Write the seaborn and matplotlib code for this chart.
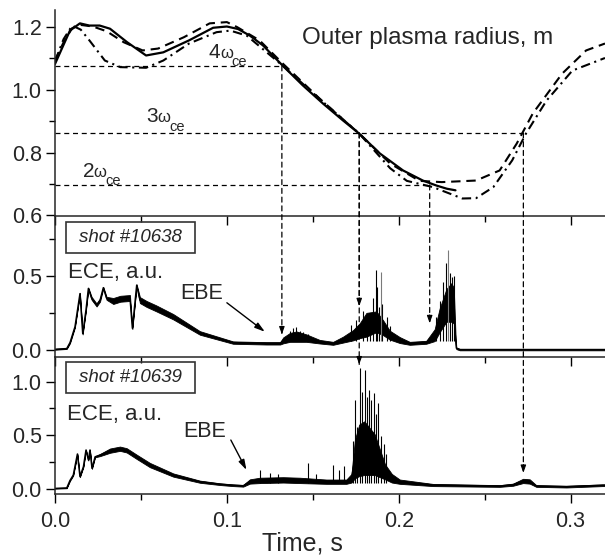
import numpy as np
import pandas as pd
import matplotlib
matplotlib.use("Agg")
import matplotlib.pyplot as plt
import seaborn as sns
from matplotlib.patches import ConnectionPatch, Rectangle
from matplotlib.ticker import MultipleLocator, FormatStrFormatter

# ---------------- data ----------------
# Outer plasma radius, m
solid_t = [0.000, 0.004, 0.0087, 0.0145, 0.020, 0.026, 0.032, 0.042, 0.053, 0.063, 0.078, 0.092,
           0.100, 0.1065, 0.1134, 0.121, 0.1326, 0.1442, 0.156, 0.1675, 0.177, 0.189, 0.2025,
           0.214, 0.222, 0.228, 0.233]
solid_r = [1.081, 1.13, 1.187, 1.21, 1.203, 1.203, 1.193, 1.150, 1.108, 1.118, 1.156, 1.196,
           1.200, 1.192, 1.171, 1.14, 1.075, 1.013, 0.955, 0.902, 0.860, 0.797, 0.743,
           0.711, 0.695, 0.685, 0.68]
dash_t = [0.000, 0.005, 0.010, 0.015, 0.022, 0.030, 0.040, 0.051, 0.060, 0.075, 0.090, 0.100,
          0.106, 0.119, 0.1326, 0.154, 0.177, 0.195, 0.212, 0.225, 0.245, 0.2587, 0.2686,
          0.278, 0.295, 0.309, 0.32]
dash_r = [1.092, 1.15, 1.195, 1.205, 1.20, 1.185, 1.15, 1.124, 1.13, 1.166, 1.21, 1.214,
          1.198, 1.156, 1.082, 0.971, 0.860, 0.765, 0.71, 0.706, 0.711, 0.743, 0.828,
          0.924, 1.05, 1.124, 1.146]
dd_t = [0.000, 0.005, 0.010, 0.015, 0.020, 0.029, 0.038, 0.053, 0.063, 0.078, 0.094, 0.102,
        0.1116, 0.1326, 0.155, 0.177, 0.195, 0.2047, 0.22, 0.237, 0.245, 0.255, 0.266,
        0.274, 0.286, 0.301, 0.319, 0.32]
dd_r = [1.09, 1.16, 1.203, 1.19, 1.156, 1.092, 1.071, 1.069, 1.092, 1.146, 1.182, 1.187,
        1.171, 1.075, 0.965, 0.860, 0.75, 0.71, 0.69, 0.654, 0.655, 0.69, 0.775,
        0.86, 0.965, 1.06, 1.098, 1.10]

# resonance levels (radius) and the times where they are crossed
res_labels = ["4", "3", "2"]
res_r = [1.075, 0.862, 0.697]
res_t_end = [0.132, 0.2725, 0.218]
res_label_t = [0.0895, 0.0533, 0.0161]
res_label_r = [1.1016, 0.896, 0.7217]

# arrows: time, top-panel radius, target panel, tip value
arrow_t = [0.132, 0.177, 0.177, 0.218, 0.2725]
arrow_r = [1.075, 0.862, 0.862, 0.697, 0.862]
arrow_panel = ["mid", "mid", "bot", "mid", "bot"]
arrow_tip = [0.105, 0.295, 1.16, 0.18, 0.15]

# ECE, shot #10638 : centre of trace and half-width of noise band
e1_t = [0.000, 0.0068, 0.0087, 0.0116, 0.0145, 0.0161, 0.018, 0.0194, 0.0213, 0.0242, 0.0262,
        0.0281, 0.030, 0.0339, 0.038, 0.0436, 0.045, 0.0475, 0.0494, 0.0533, 0.059, 0.0688,
        0.0843, 0.1036, 0.123, 0.131, 0.1328, 0.1367, 0.1405, 0.1463, 0.154, 0.1618, 0.1676,
        0.1735, 0.1773, 0.1812, 0.187, 0.1909, 0.1948, 0.2006, 0.2064, 0.216, 0.2209, 0.2238,
        0.2277, 0.2306, 0.232, 0.233, 0.2335, 0.2355, 0.26, 0.29, 0.32]
e1_v = [0.005, 0.010, 0.05, 0.157, 0.38, 0.11, 0.27, 0.415, 0.348, 0.303, 0.336,
        0.42, 0.348, 0.33, 0.345, 0.35, 0.146, 0.437, 0.336, 0.31, 0.28, 0.224,
        0.115, 0.05, 0.045, 0.045, 0.065, 0.085, 0.09, 0.08, 0.056, 0.045, 0.07,
        0.10, 0.13, 0.17, 0.19, 0.15, 0.10, 0.067, 0.045, 0.052, 0.10, 0.20,
        0.30, 0.32, 0.30, 0.08, 0.012, 0.003, 0.003, 0.003, 0.003]
e1_w = [0.003, 0.003, 0.005, 0.005, 0.005, 0.005, 0.005, 0.005, 0.01, 0.01, 0.01,
        0.005, 0.01, 0.02, 0.02, 0.02, 0.005, 0.005, 0.02, 0.02, 0.02, 0.018,
        0.012, 0.008, 0.008, 0.008, 0.02, 0.03, 0.035, 0.025, 0.012, 0.01, 0.02,
        0.035, 0.05, 0.08, 0.07, 0.05, 0.03, 0.02, 0.01, 0.01, 0.04, 0.08,
        0.11, 0.13, 0.12, 0.03, 0.006, 0.005, 0.005, 0.005, 0.005]
s1_t = [0.1365, 0.1385, 0.1405, 0.1415, 0.1425, 0.1445, 0.1470, 0.1720, 0.1750, 0.1790,
        0.1815, 0.1830, 0.1851, 0.1866, 0.1875, 0.1886, 0.1905, 0.1932, 0.1950,
        0.2215, 0.2240, 0.2258, 0.2273, 0.2296, 0.2312, 0.2320]
s1_v = [0.13, 0.15, 0.157, 0.12, 0.13, 0.12, 0.11, 0.17, 0.20, 0.26,
        0.236, 0.224, 0.348, 0.538, 0.426, 0.29, 0.31, 0.224, 0.16,
        0.22, 0.33, 0.46, 0.583, 0.515, 0.494, 0.50]
s1_grey_t = [0.1899, 0.2286]
s1_grey_v = [0.527, 0.673]

# ECE, shot #10639
e2_t = [0.000, 0.0068, 0.0087, 0.0106, 0.0130, 0.0145, 0.0165, 0.018, 0.0194, 0.0203, 0.0215,
        0.0233, 0.0262, 0.032, 0.0378, 0.0417, 0.0475, 0.0552, 0.0688, 0.0843, 0.0960,
        0.1036, 0.1095, 0.1134, 0.1192, 0.1328, 0.1424, 0.1579, 0.1695, 0.1725, 0.1745,
        0.177, 0.180, 0.183, 0.186, 0.189, 0.192, 0.196, 0.2006, 0.22, 0.2588, 0.2665,
        0.2723, 0.2762, 0.2800, 0.2975, 0.3186, 0.32]
e2_v = [0.006, 0.010, 0.08, 0.13, 0.326, 0.115, 0.208, 0.363, 0.27, 0.363, 0.192,
        0.30, 0.316, 0.357, 0.375, 0.36, 0.30, 0.223, 0.13, 0.068, 0.045,
        0.035, 0.03, 0.07, 0.08, 0.085, 0.08, 0.068, 0.068, 0.10, 0.28,
        0.36, 0.38, 0.35, 0.32, 0.24, 0.16, 0.10, 0.068, 0.037, 0.028, 0.04,
        0.075, 0.07, 0.028, 0.022, 0.035, 0.035]
e2_w = [0.003, 0.003, 0.005, 0.005, 0.005, 0.005, 0.005, 0.005, 0.005, 0.005, 0.005,
        0.005, 0.01, 0.02, 0.02, 0.02, 0.02, 0.02, 0.015, 0.01, 0.008,
        0.008, 0.008, 0.02, 0.025, 0.025, 0.025, 0.02, 0.02, 0.04, 0.18,
        0.24, 0.25, 0.22, 0.19, 0.13, 0.07, 0.04, 0.02, 0.01, 0.008, 0.01,
        0.02, 0.02, 0.008, 0.008, 0.008, 0.008]
s2_t = [0.1192, 0.125, 0.130, 0.1473, 0.152, 0.1619, 0.1653, 0.1682, 0.1735, 0.1744, 0.1758,
        0.1773, 0.1789, 0.1802, 0.1816, 0.1827, 0.1841, 0.1855, 0.1868, 0.188, 0.1899,
        0.1915, 0.1928]
s2_v = [0.177, 0.15, 0.14, 0.24, 0.14, 0.224, 0.177, 0.21, 0.45, 0.83, 0.58,
        1.124, 0.906, 1.108, 0.86, 0.92, 0.83, 0.89, 0.70, 0.80, 0.49,
        0.42, 0.33]

x_ticks = [0.0, 0.1, 0.2, 0.3]

# ---------------- style ----------------
sns.set_style("ticks")
plt.rcParams["font.family"] = ["Liberation Sans", "DejaVu Sans"]
plt.rcParams["axes.linewidth"] = 1.1

fig = plt.figure(figsize=(6.05, 5.59), dpi=100)
L, W = 55 / 605, 550 / 605
ax_top = fig.add_axes([L, 1 - 215.5 / 559, W, 205.5 / 559])
ax_mid = fig.add_axes([L, 1 - 357 / 559, W, 141 / 559])
ax_bot = fig.add_axes([L, 1 - 494 / 559, W, 137 / 559])
axes = {"mid": ax_mid, "bot": ax_bot}

for ax in (ax_top, ax_mid, ax_bot):
    ax.set_facecolor("none")
    ax.set_xlim(0, 0.32)
    ax.spines["top"].set_visible(False)
    ax.spines["right"].set_visible(False)
    ax.xaxis.set_major_locator(MultipleLocator(0.1))
    ax.xaxis.set_minor_locator(MultipleLocator(0.05))
    ax.tick_params(which="major", direction="out", length=6.5, width=1.0,
                   labelsize=15.5, pad=3, color="k")
    ax.tick_params(which="minor", direction="out", length=4, width=1.0, color="k")
    ax.yaxis.set_major_formatter(FormatStrFormatter("%.1f"))
    ax.set_xlabel("")
    ax.set_ylabel("")

ax_top.set_ylim(0.6, 1.2524)
ax_top.yaxis.set_major_locator(MultipleLocator(0.2))
ax_top.yaxis.set_minor_locator(MultipleLocator(0.1))
ax_mid.set_ylim(-0.047, 0.902)
ax_mid.yaxis.set_major_locator(MultipleLocator(0.5))
ax_mid.yaxis.set_minor_locator(MultipleLocator(0.25))
ax_bot.set_ylim(-0.0466, 1.229)
ax_bot.yaxis.set_major_locator(MultipleLocator(0.5))
ax_bot.yaxis.set_minor_locator(MultipleLocator(0.25))
ax_top.tick_params(labelbottom=False)
ax_mid.tick_params(labelbottom=False)
ax_bot.set_xticks(x_ticks)
ax_bot.xaxis.set_major_formatter(FormatStrFormatter("%.1f"))
ax_bot.tick_params(axis="x", pad=6)

# ---------------- top panel ----------------
sns.lineplot(x=solid_t, y=solid_r, ax=ax_top, color="k", lw=1.6, sort=False)
sns.lineplot(x=dash_t, y=dash_r, ax=ax_top, color="k", lw=1.5, sort=False,
             linestyle=(0, (4.5, 2.8)))
sns.lineplot(x=dd_t, y=dd_r, ax=ax_top, color="k", lw=1.5, sort=False,
             linestyle=(0, (4.5, 2.2, 1.0, 2.2)))

for r, te in zip(res_r, res_t_end):
    ax_top.hlines(r, 0, te, colors="k", lw=0.9, linestyles=[(0, (4, 3))])

for lab, lt, lr in zip(res_labels, res_label_t, res_label_r):
    ax_top.annotate(lab, xy=(lt, lr), xytext=(0, 0), textcoords="offset points",
                    fontsize=15, ha="left", va="baseline")
    ax_top.annotate("ω", xy=(lt, lr), xytext=(8, 0), textcoords="offset points",
                    fontsize=12, ha="left", va="baseline")
    ax_top.annotate("ce", xy=(lt, lr), xytext=(16.5, -6), textcoords="offset points",
                    fontsize=10.5, ha="left", va="baseline")

ax_top.text(0.1436, 1.146, "Outer plasma radius, m", fontsize=17.5, ha="left", va="baseline")

# ---------------- ECE panels ----------------
def draw_ece(ax, t, v, w, st, sv, gt=None, gv=None):
    lo = [a - b for a, b in zip(v, w)]
    hi = [a + b for a, b in zip(v, w)]
    ax.fill_between(t, lo, hi, color="k", lw=0.6, edgecolor="k")
    sns.lineplot(x=t, y=v, ax=ax, color="k", lw=1.0, sort=False)
    ax.vlines(st, 0.06, sv, colors="k", lw=0.8)
    if gt is not None:
        ax.vlines(gt, 0.06, gv, colors="#7a7a7a", lw=0.8)

draw_ece(ax_mid, e1_t, e1_v, e1_w, s1_t, s1_v, s1_grey_t, s1_grey_v)
draw_ece(ax_bot, e2_t, e2_v, e2_w, s2_t, s2_v)

# shot boxes
for ax, (y0, y1), txt in [(ax_mid, (0.655, 0.863), "shot #10638"),
                          (ax_bot, (0.891, 1.185), "shot #10639")]:
    ax.add_patch(Rectangle((0.0062, y0), 0.0752, y1 - y0, fill=False,
                           edgecolor="#333333", lw=1.2, zorder=5))
    ax.text(0.0438, (y0 + y1) / 2, txt, fontsize=13.5, style="italic",
            ha="center", va="center")

ax_mid.text(0.0076, 0.4825, "ECE, a.u.", fontsize=16, ha="left", va="baseline")
ax_bot.text(0.0068, 0.642, "ECE, a.u.", fontsize=16, ha="left", va="baseline")
ax_mid.text(0.0727, 0.341, "EBE", fontsize=15.5, ha="left", va="baseline")
ax_bot.text(0.0746, 0.487, "EBE", fontsize=15.5, ha="left", va="baseline")
ebe_arrow = dict(arrowstyle="-|>,head_length=0.6,head_width=0.18", color="k",
                 lw=1.0, shrinkA=0, shrinkB=0)
ax_mid.annotate("", xy=(0.1221, 0.123), xytext=(0.100, 0.318), arrowprops=ebe_arrow)
ax_bot.annotate("", xy=(0.1114, 0.177), xytext=(0.1023, 0.456), arrowprops=ebe_arrow)

# ---------------- dashed connectors ----------------
for t, r, pan, tip in zip(arrow_t, arrow_r, arrow_panel, arrow_tip):
    tax = axes[pan]
    con = ConnectionPatch(xyA=(t, r), coordsA=ax_top.transData,
                          xyB=(t, tip), coordsB=tax.transData,
                          color="k", lw=0.9, linestyle=(0, (4, 3)), zorder=6)
    fig.add_artist(con)
    tax.annotate("", xy=(t, tip), xytext=(0, 6), textcoords="offset points",
                 arrowprops=dict(arrowstyle="-|>,head_length=0.45,head_width=0.16",
                                 color="k", lw=0.8, shrinkA=0, shrinkB=0))

fig.text(0.5, 1 - 550 / 559, "Time, s", fontsize=18, ha="center", va="baseline")

fig.savefig("out.png", dpi=100, facecolor="white")
